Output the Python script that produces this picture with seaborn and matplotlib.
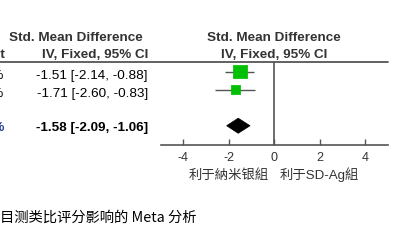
import matplotlib
matplotlib.use("Agg")
import matplotlib.pyplot as plt
import matplotlib.transforms as mtransforms
from matplotlib.lines import Line2D
from matplotlib.patches import Polygon
import numpy as np
import seaborn as sns

# -----------------------------------------------------------------------------
# Data
# -----------------------------------------------------------------------------
studies = ["Study 1", "Study 2"]
smd = [-1.51, -1.71]
ci_low = [-2.14, -2.60]
ci_high = [-0.88, -0.83]
weights = [68.7, 31.3]

total_smd = -1.58
total_low = -2.09
total_high = -1.06
total_weight = 100.0

xticks = [-4, -2, 0, 2, 4]
xticklabels = ["-4", "-2", "0", "2", "4"]
favours_left = "利于納米银組"
favours_right = "利于SD-Ag組"
caption = "目测类比评分影响的 Meta 分析"

# -----------------------------------------------------------------------------
# Plotting attributes
# -----------------------------------------------------------------------------
sns.set_theme(style="white")
plt.rcParams["font.family"] = ["Liberation Sans", "Noto Sans CJK SC", "DejaVu Sans"]
plt.rcParams["axes.unicode_minus"] = False

W, H = 420, 243
dpi = 100
fs = 9.7
dark = "#333333"
green = "#00C000"
line_col = "#555555"

fig = plt.figure(figsize=(W / dpi, H / dpi), dpi=dpi)
fig.patch.set_facecolor("white")

# forest axes: x -5..5 -> px 160.5..387.75 ; y top 62, bottom 145
ax = fig.add_axes([160.5 / W, 1 - 145 / H, 227.25 / W, 83 / H])
ax.set_facecolor("none")

row_y = [0, 1]
total_y = 3
ax.set_xlim(-5, 5)
ax.set_ylim(4.07, -0.54)

# confidence intervals + weighted squares
ax.hlines(row_y, ci_low, ci_high, color=line_col, lw=1.0, zorder=2)
sns.scatterplot(x=smd, y=row_y, size=weights, sizes=(42, 94), marker="s",
                color=green, edgecolor=green, legend=False, ax=ax, zorder=3)

# pooled diamond
h = 0.42
diamond = Polygon([(total_low, total_y), (total_smd, total_y - h),
                   (total_high, total_y), (total_smd, total_y + h)],
                  closed=True, facecolor="black", edgecolor="black", lw=0.5)
ax.add_patch(diamond)

# line of no effect
ax.axvline(0, color=line_col, lw=1.2, zorder=1)

# axis styling
for s in ["top", "right", "left"]:
    ax.spines[s].set_visible(False)
ax.spines["bottom"].set_color(line_col)
ax.spines["bottom"].set_linewidth(1.2)
ax.set_yticks([])
ax.set_xticks(xticks)
ax.set_xticklabels(xticklabels)
ax.tick_params(axis="x", direction="in", length=4, width=1.0, color=line_col,
               labelsize=9, labelcolor=dark, pad=5, bottom=True)

# header rule across the whole table
fig.add_artist(Line2D([0, 388 / W], [1 - 62 / H, 1 - 62 / H], color=line_col,
                      lw=1.3, transform=fig.transFigure))

# -----------------------------------------------------------------------------
# Text columns
# -----------------------------------------------------------------------------
def px(x):
    return x / W

def py(y):
    return 1 - y / H

fig.text(px(143), py(38), "Std. Mean Difference", ha="right", va="center",
         fontsize=fs, fontweight="bold", color=dark)
fig.text(px(148), py(55), "IV, Fixed, 95% CI", ha="right", va="center",
         fontsize=fs, fontweight="bold", color=dark)
fig.text(px(274), py(38), "Std. Mean Difference", ha="center", va="center",
         fontsize=fs, fontweight="bold", color=dark)
fig.text(px(274), py(55), "IV, Fixed, 95% CI", ha="center", va="center",
         fontsize=fs, fontweight="bold", color=dark)
# weight column lies mostly outside the crop, only its right edge shows
fig.text(px(6), py(55), "Weight", ha="right", va="center",
         fontsize=fs, fontweight="bold", color=dark)

blend = mtransforms.blended_transform_factory(fig.transFigure, ax.transData)
for y, m, lo, hi, w in zip(row_y, smd, ci_low, ci_high, weights):
    fig.text(px(148), y + 0.22, f"{m:.2f} [{lo:.2f}, {hi:.2f}]", ha="right",
             va="center", fontsize=fs, color="black", transform=blend)
    fig.text(px(4), y + 0.22, f"{w:.1f}%", ha="right", va="center",
             fontsize=fs, color="black", transform=blend)

fig.text(px(148), total_y + 0.1,
         f"{total_smd:.2f} [{total_low:.2f}, {total_high:.2f}]", ha="right",
         va="center", fontsize=fs, fontweight="bold", color="black",
         transform=blend)
fig.text(px(5), total_y + 0.1, f"{total_weight:.1f}%", ha="right",
         va="center", fontsize=fs, fontweight="bold", color="#1f3f8f",
         transform=blend)

# favours labels
blend_x = mtransforms.blended_transform_factory(ax.transData, fig.transFigure)
fig.text(-2, py(175), favours_left, ha="center", va="center", fontsize=9.6,
         color=dark, transform=blend_x,
         family=["Noto Sans CJK SC", "Liberation Sans"])
fig.text(2, py(175), favours_right, ha="center", va="center", fontsize=9.6,
         color=dark, transform=blend_x,
         family=["Liberation Sans", "Noto Sans CJK SC"])

# caption (cut at the left edge)
fig.text(px(197), py(218), caption, ha="right", va="center", fontsize=10.3,
         color="black", family=["Noto Sans CJK SC", "DejaVu Sans"])

plt.savefig("out.png", dpi=dpi, facecolor="white")
